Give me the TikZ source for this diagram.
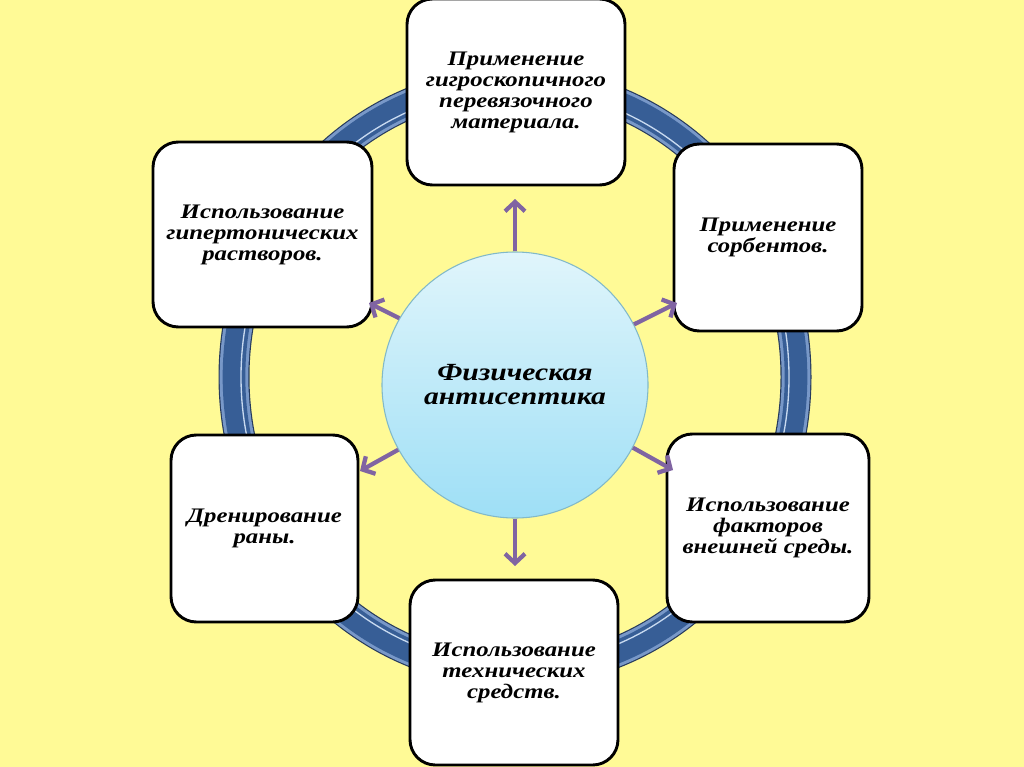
\documentclass[tikz,border=0pt]{standalone}
\usepackage{fontspec}
\setmainfont{Liberation Serif}[FakeStretch=1.2]
\usetikzlibrary{arrows.meta}
\definecolor{bgyellow}{RGB}{255,250,150}
\definecolor{ringdark}{RGB}{38,58,92}
\definecolor{ringlight}{RGB}{120,152,200}
\definecolor{ringmain}{RGB}{55,94,150}
\definecolor{ringhi}{RGB}{200,218,240}
\definecolor{arrowpurple}{RGB}{128,100,162}
\definecolor{circtop}{RGB}{224,245,251}
\definecolor{circbot}{RGB}{158,223,246}
\definecolor{circedge}{RGB}{130,185,200}
\begin{document}
\begin{tikzpicture}[x=0.75pt,y=-0.75pt,
  box/.style={draw=black, line width=2.2pt, fill=white, rounded corners=19pt,
    align=center, inner sep=0pt,
    font=\bfseries\itshape\fontsize{15.5}{15.75}\selectfont},
  hub/.style={circle, inner sep=0pt, minimum size=199.5pt, draw=circedge,
    line width=0.8pt, top color=circtop, bottom color=circbot, align=center,
    font=\bfseries\itshape\fontsize{18.5}{18}\selectfont},
  conn/.style={draw=arrowpurple, line width=3.2pt,
    -{Straight Barb[length=7pt,width=15pt]}}]
\useasboundingbox (0,0) rectangle (1024,767);
\fill[bgyellow] (0,0) rectangle (1024,767);
% ring
\draw[line width=23.25pt, ringdark] (515,377) ellipse [x radius=281, y radius=295];
\draw[line width=21.5pt, ringlight] (515,377) ellipse [x radius=281, y radius=295];
\draw[line width=17pt, ringmain] (515,377) ellipse [x radius=281, y radius=295];
\draw[line width=1pt, ringhi] (515,377) ellipse [x radius=274, y radius=288];
% hub
\node[hub] (c) at (515,385) {Физическая\\антисептика};
% boxes
\node[box, minimum width=163.5pt, minimum height=139.5pt] (t) at (516,92)
  {Применение\\гигроскопичного\\перевязочного\\материала.};
\node[box, minimum width=141pt, minimum height=140.25pt] (tr) at (768,237.5)
  {Применение\\сорбентов.};
\node[box, minimum width=151.5pt, minimum height=141pt] (br) at (768,528)
  {Использование\\факторов\\внешней среды.};
\node[box, minimum width=156pt, minimum height=138.75pt] (b) at (514,672.5)
  {Использование\\технических\\средств.};
\node[box, minimum width=140.25pt, minimum height=140.25pt] (bl) at (264.5,528.5)
  {Дренирование\\раны.};
\node[box, minimum width=164.25pt, minimum height=138.75pt] (tl) at (262.5,234.5)
  {Использование\\гипертонических\\растворов.};
% arrow tips
\coordinate (tu) at (515,199);
\coordinate (td) at (515,566);
\coordinate (ttl) at (369,303);
\coordinate (tbl) at (360,471);
\coordinate (ttr) at (677,303);
\coordinate (tbr) at (673,470);
\draw[conn] (c.90) -- (tu);
\draw[conn] (c.270) -- (td);
\draw[conn] (c.150) -- (ttl);
\draw[conn] (c.209) -- (tbl);
\draw[conn] (c.27) -- (ttr);
\draw[conn] (c.-28) -- (tbr);
\end{tikzpicture}
\end{document}
